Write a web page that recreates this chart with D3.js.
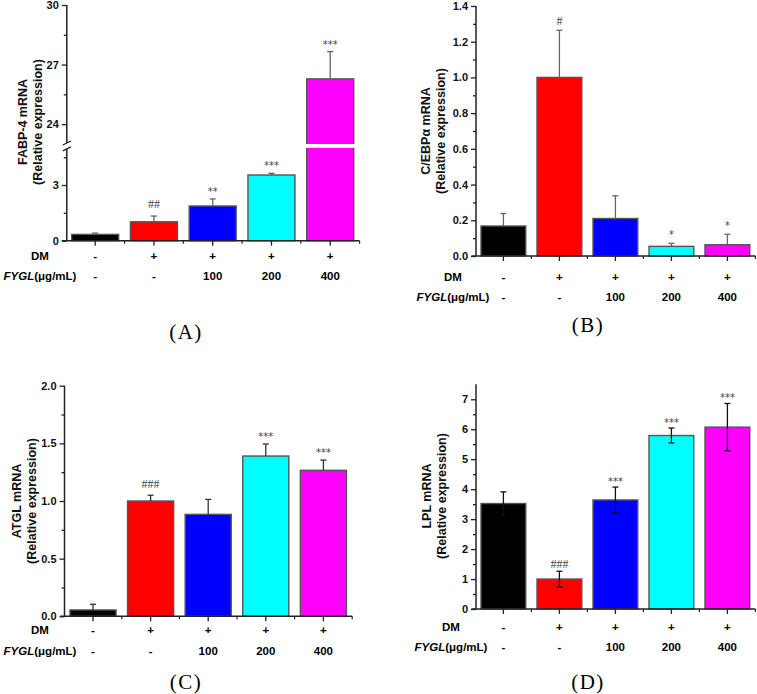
<!DOCTYPE html>
<html>
<head>
<meta charset="utf-8">
<script src="https://cdn.jsdelivr.net/npm/d3@7/dist/d3.min.js"></script>
<style>
  body { margin: 0; background: #fff; }
</style>
</head>
<body>
<div id="chart"></div>
<script>
"use strict"

// groups and treatment rows
let groups = ["Control", "DM", "FYGL100", "FYGL200", "FYGL400"];
let dmRow = ["-", "+", "+", "+", "+"];
let fyglRow = ["-", "-", "100", "200", "400"];
let barColors = ["#000000", "#ff0000", "#0000ff", "#00ffff", "#ff00ff"];

// (A) FABP-4
let fabp4Mean = [0.34, 1.02, 1.87, 3.54, 26.28];
let fabp4Err = [0.07, 0.31, 0.38, 0.09, 1.37];
let fabp4Marks = ["", "##", "**", "***", "***"];
let fabp4LowTicks = [0, 3];
let fabp4LowMinor = [1.5, 4.5];
let fabp4HighTicks = [24, 27, 30];
let fabp4HighMinor = [25.5, 28.5];

// (B) C/EBPa
let cebpaMean = [0.168, 1.0, 0.21, 0.054, 0.063];
let cebpaErr = [0.07, 0.264, 0.127, 0.017, 0.059];
let cebpaMarks = ["", "#", "", "*", "*"];
let cebpaTicks = [0, 0.2, 0.4, 0.6, 0.8, 1.0, 1.2, 1.4];
let cebpaMinor = [0.1, 0.3, 0.5, 0.7, 0.9, 1.1, 1.3];

// (C) ATGL
let atglMean = [0.055, 1.0, 0.884, 1.39, 1.266];
let atglErr = [0.049, 0.05, 0.13, 0.104, 0.089];
let atglMarks = ["", "###", "", "***", "***"];
let atglTicks = [0, 0.5, 1.0, 1.5, 2.0];
let atglMinor = [0.25, 0.75, 1.25, 1.75];

// (D) LPL
let lplMean = [3.52, 1.0, 3.64, 5.79, 6.07];
let lplErr = [0.39, 0.26, 0.43, 0.25, 0.79];
let lplMarks = ["", "###", "***", "***", "***"];
let lplTicks = [0, 1, 2, 3, 4, 5, 6, 7];
let lplMinor = [0.5, 1.5, 2.5, 3.5, 4.5, 5.5, 6.5];

let drawingWidth = 757;
let drawingHeight = 694;
let sans = "Liberation Sans, Arial, sans-serif";

let drawing = d3.select("#chart")
    .append("svg")
    .attr("width", drawingWidth)
    .attr("height", drawingHeight)
    .attr("font-family", sans);

let axisColor = "#222";

function styleAxis(g) {
    g.select(".domain").remove();
    g.attr("font-family", sans);
    g.selectAll(".tick line").attr("stroke", axisColor).attr("stroke-width", 1.3);
    g.selectAll(".tick text")
        .attr("font-size", 11)
        .attr("font-weight", "bold")
        .attr("fill", "#111");
}

function drawYAxis(scale, ticks, minor, fmt, xPos) {
    let g = drawing.append("g").attr("transform", "translate(" + xPos + ",0)");
    g.call(d3.axisLeft(scale).tickValues(ticks).tickSize(5).tickPadding(3).tickFormat(fmt));
    styleAxis(g);
    let m = drawing.append("g").attr("transform", "translate(" + xPos + ",0)");
    m.call(d3.axisLeft(scale).tickValues(minor).tickSize(3).tickFormat(""));
    styleAxis(m);
}

function drawXAxis(x, yPos) {
    drawing.append("line")
        .attr("x1", x.range()[0] - 4).attr("x2", x.range()[1])
        .attr("y1", yPos).attr("y2", yPos)
        .attr("stroke", axisColor).attr("stroke-width", 1.5);
    let g = drawing.append("g").attr("transform", "translate(0," + yPos + ")");
    g.call(d3.axisBottom(x).tickSize(5).tickFormat(""));
    styleAxis(g);
    // small ticks at the group boundaries
    let edges = d3.range(1, groups.length + 1).map(i => x.range()[0] + i * x.step());
    drawing.selectAll(null).data(edges).enter().append("line")
        .attr("x1", d => d).attr("x2", d => d)
        .attr("y1", yPos).attr("y2", yPos + 3)
        .attr("stroke", axisColor).attr("stroke-width", 1.2);
}

function drawTitle(lines, xPos, yMid) {
    lines.forEach(function(t, i) {
        drawing.append("text")
            .attr("transform", "translate(" + (xPos + i * 15) + "," + yMid + ") rotate(-90)")
            .attr("text-anchor", "middle")
            .attr("font-size", 12.5)
            .attr("font-weight", "bold")
            .attr("fill", "#111")
            .text(t);
    });
}

function drawRows(x, labelX, y1, y2) {
    drawing.append("text")
        .attr("x", labelX).attr("y", y1)
        .attr("text-anchor", "middle")
        .attr("font-size", 11.5).attr("font-weight", "bold")
        .text("DM");
    let fy = drawing.append("text")
        .attr("x", labelX).attr("y", y2)
        .attr("text-anchor", "middle")
        .attr("font-size", 11.5).attr("font-weight", "bold");
    fy.append("tspan").attr("font-style", "italic").text("FYGL");
    fy.append("tspan").text("(μg/mL)");

    drawing.selectAll(null).data(groups).enter().append("text")
        .attr("x", (d, i) => x(d) + x.bandwidth() / 2)
        .attr("y", y1)
        .attr("text-anchor", "middle")
        .attr("font-size", 11.5).attr("font-weight", "bold")
        .text((d, i) => dmRow[i]);
    drawing.selectAll(null).data(groups).enter().append("text")
        .attr("x", (d, i) => x(d) + x.bandwidth() / 2)
        .attr("y", y2)
        .attr("text-anchor", "middle")
        .attr("font-size", 11.5).attr("font-weight", "bold")
        .text((d, i) => fyglRow[i]);
}

function drawLetter(t, xPos, yPos) {
    drawing.append("text")
        .attr("x", xPos).attr("y", yPos)
        .attr("text-anchor", "middle")
        .attr("font-family", "Liberation Serif, Times New Roman, serif")
        .attr("font-size", 21)
        .attr("letter-spacing", 1.5)
        .text(t);
}

function drawBars(x, yFn, baseFn, means) {
    drawing.selectAll(null).data(means).enter().append("rect")
        .attr("x", (d, i) => x(groups[i]))
        .attr("width", x.bandwidth())
        .attr("y", (d, i) => yFn(d, i))
        .attr("height", (d, i) => baseFn(i) - yFn(d, i))
        .attr("fill", (d, i) => barColors[i])
        .attr("stroke", "#555")
        .attr("stroke-width", 1.4);
}

function drawErrors(x, yFn, means, errs, twoSided, color) {
    let cap = 3;
    means.forEach(function(m, i) {
        let cx = x(groups[i]) + x.bandwidth() / 2;
        let top = yFn(m + errs[i], i);
        let bottom = twoSided ? yFn(m - errs[i], i) : yFn(m, i);
        let g = drawing.append("g").attr("stroke", color).attr("stroke-width", 1.3);
        g.append("line").attr("x1", cx).attr("x2", cx).attr("y1", top).attr("y2", bottom);
        g.append("line").attr("x1", cx - cap).attr("x2", cx + cap).attr("y1", top).attr("y2", top);
        if (twoSided) {
            g.append("line").attr("x1", cx - cap).attr("x2", cx + cap).attr("y1", bottom).attr("y2", bottom);
        }
    });
}

function drawMarks(x, yFn, means, errs, marks, lift) {
    drawing.selectAll(null).data(marks).enter().append("text")
        .attr("x", (d, i) => x(groups[i]) + x.bandwidth() / 2)
        .attr("y", (d, i) => yFn(means[i] + errs[i], i) - (d.indexOf("#") >= 0 ? lift.hash : lift.star))
        .attr("text-anchor", "middle")
        .attr("font-size", d => d.indexOf("#") >= 0 ? 12 : 10)
        .attr("font-family", d => d.indexOf("#") >= 0 ? "Liberation Serif, serif" : "DejaVu Sans, sans-serif")
        .attr("fill", "#444")
        .text(d => d);
}

// ---------- (A) FABP-4 with broken axis ----------
let xA = d3.scaleBand().domain(groups).range([65.8, 359.6]).paddingInner(0.2).paddingOuter(0.1);
let yALow = d3.scaleLinear().domain([0, 5]).range([240.7, 147.9]);
let yAHigh = d3.scaleLinear().domain([23, 30]).range([144, 5]);
let yA = (v, i) => v > 5 ? yAHigh(v) : yALow(v);

// bars: magenta bar is split at the break
drawBars(xA, (d, i) => yA(d, i), i => yALow(0), fabp4Mean);
drawing.append("rect")
    .attr("x", xA(groups[4]) - 2).attr("width", xA.bandwidth() + 4)
    .attr("y", yAHigh(23)).attr("height", yALow(5) - yAHigh(23))
    .attr("fill", "#fff");
drawErrors(xA, yA, fabp4Mean, fabp4Err, false, "#666");
drawMarks(xA, yA, fabp4Mean, fabp4Err, fabp4Marks, {hash: 8, star: 4});

let axAx = xA.range()[0] + 1;
drawing.append("line").attr("x1", axAx).attr("x2", axAx)
    .attr("y1", yALow(0)).attr("y2", yALow(5) + 1)
    .attr("stroke", axisColor).attr("stroke-width", 1.5);
drawing.append("line").attr("x1", axAx).attr("x2", axAx)
    .attr("y1", yAHigh(23) - 1).attr("y2", yAHigh(30))
    .attr("stroke", axisColor).attr("stroke-width", 1.5);
[yAHigh(23) - 1, yALow(5) + 1].forEach(function(yy) {
    drawing.append("line")
        .attr("x1", axAx - 4).attr("x2", axAx + 4)
        .attr("y1", yy + 2).attr("y2", yy - 2)
        .attr("stroke", axisColor).attr("stroke-width", 1.2);
});
drawYAxis(yALow, fabp4LowTicks, fabp4LowMinor, d3.format("d"), axAx);
drawYAxis(yAHigh, fabp4HighTicks, fabp4HighMinor, d3.format("d"), axAx);
drawXAxis(xA, yALow(0));
drawTitle(["FABP-4 mRNA", "(Relative expression)"], 27, 122);
drawRows(xA, 40, 260, 280);
drawLetter("(A)", 186, 339);

// ---------- (B) C/EBPa ----------
let xB = d3.scaleBand().domain(groups).range([475.4, 755.4]).paddingInner(0.2).paddingOuter(0.1);
let yB = d3.scaleLinear().domain([0, 1.4]).range([256, 6]);
drawBars(xB, d => yB(d), i => yB(0), cebpaMean);
drawErrors(xB, v => yB(v), cebpaMean, cebpaErr, false, "#666");
drawMarks(xB, v => yB(v), cebpaMean, cebpaErr, cebpaMarks, {hash: 5, star: 5});
drawing.append("line").attr("x1", 476).attr("x2", 476)
    .attr("y1", yB(0)).attr("y2", yB(1.4))
    .attr("stroke", axisColor).attr("stroke-width", 1.5);
drawYAxis(yB, cebpaTicks, cebpaMinor, d3.format(".1f"), 476);
drawXAxis(xB, yB(0));
drawTitle(["C/EBPα mRNA", "(Relative expression)"], 429.5, 131);
drawRows(xB, 453, 280.5, 300.5);
drawLetter("(B)", 588, 332);

// ---------- (C) ATGL ----------
let xC = d3.scaleBand().domain(groups).range([64.2, 352.2]).paddingInner(0.2).paddingOuter(0.1);
let yC = d3.scaleLinear().domain([0, 2.0]).range([616.3, 385.7]);
drawBars(xC, d => yC(d), i => yC(0), atglMean);
drawErrors(xC, v => yC(v), atglMean, atglErr, false, "#333");
drawMarks(xC, v => yC(v), atglMean, atglErr, atglMarks, {hash: 7, star: 4});
drawing.append("line").attr("x1", 64.5).attr("x2", 64.5)
    .attr("y1", yC(0)).attr("y2", yC(2.0))
    .attr("stroke", axisColor).attr("stroke-width", 1.5);
drawYAxis(yC, atglTicks, atglMinor, d3.format(".1f"), 64.5);
drawXAxis(xC, yC(0));
drawTitle(["ATGL mRNA", "(Relative expression)"], 20.5, 501);
drawRows(xC, 40, 634, 654.5);
drawLetter("(C)", 186, 689);

// ---------- (D) LPL ----------
let xD = d3.scaleBand().domain(groups).range([475.4, 755.4]).paddingInner(0.2).paddingOuter(0.1);
let yD = d3.scaleLinear().domain([0, 7.5]).range([609, 384.3]);
drawBars(xD, d => yD(d), i => yD(0), lplMean);
drawErrors(xD, v => yD(v), lplMean, lplErr, true, "#111");
drawMarks(xD, v => yD(v), lplMean, lplErr, lplMarks, {hash: 3, star: 2});
drawing.append("line").attr("x1", 476).attr("x2", 476)
    .attr("y1", yD(0)).attr("y2", yD(7.5))
    .attr("stroke", axisColor).attr("stroke-width", 1.5);
drawYAxis(yD, lplTicks, lplMinor, d3.format("d"), 476);
drawXAxis(xD, yD(0));
drawTitle(["LPL mRNA", "(Relative expression)"], 430.5, 496);
drawRows(xD, 451, 631, 650.5);
drawLetter("(D)", 588, 689);
</script>
</body>
</html>
